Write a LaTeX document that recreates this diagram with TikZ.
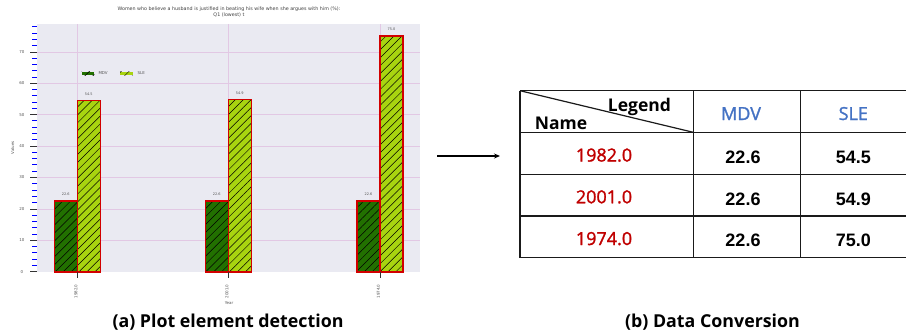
\documentclass[tikz,border=0pt]{standalone}
\usepackage{fontspec}
\setmainfont{Liberation Sans}
\newfontfamily\capfont{Open Sans}
\newfontfamily\medfont[RawFeature={embolden=1.4}]{Open Sans}
\newfontfamily\dvfont{DejaVu Sans}
\usetikzlibrary{patterns.meta,arrows.meta}
\definecolor{plotbg}{HTML}{EAEAF2}
\definecolor{gridc}{HTML}{E2C8E4}
\definecolor{mdvc}{HTML}{227000}
\definecolor{slec}{HTML}{A8D410}
\definecolor{edgec}{HTML}{D20000}
\definecolor{yearc}{HTML}{C00000}
\definecolor{headc}{HTML}{4472C4}
\definecolor{tinyc}{HTML}{555555}
\definecolor{tablec}{HTML}{1A1A1A}
\tikzset{
  tiny/.style={font=\dvfont\fontsize{4}{4.5}\selectfont, text=tinyc, inner sep=0pt},
  hatchbar/.style={fill=#1, postaction={pattern={Lines[angle=45,distance=5.6pt,line width=0.5pt]}, pattern color=black}},
  baredge/.style={draw=edgec, line width=1.6pt},
  majtick/.style={draw=black!80, line width=0.8pt},
  mintick/.style={draw=blue, line width=1pt},
  gridl/.style={draw=gridc, line width=0.5pt},
  tline/.style={draw=tablec, line width=1.3pt},
  headtxt/.style={font=\capfont\bfseries\fontsize{17.5}{19}\selectfont, inner sep=0pt, anchor=base},
  yeartxt/.style={font=\medfont\fontsize{18}{20}\selectfont, text=yearc, inner sep=0pt, anchor=base},
  coltxt/.style={font=\medfont\fontsize{18}{20}\selectfont, text=headc, inner sep=0pt, anchor=base},
  valtxt/.style={font=\bfseries\fontsize{18}{20}\selectfont, inner sep=0pt, anchor=base},
  captxt/.style={font=\capfont\bfseries\fontsize{17.8}{20}\selectfont, inner sep=0pt, anchor=base},
}
\begin{document}
\begin{tikzpicture}[x=1pt,y=-1pt]
\useasboundingbox (0,0) rectangle (906,335);
\fill[white] (0,0) rectangle (906,335);
% ---------- plot ----------
\fill[plotbg] (37.3,24) rectangle (420,271.7);
\foreach \v in {10,20,...,70}{
  \draw[gridl] (37.3,{271.7-3.14*\v}) -- (420,{271.7-3.14*\v});
}
\foreach \x in {77.3,228.3,380}{
  \draw[gridl] (\x,24) -- (\x,271.7);
}
\foreach \v in {0,2,...,78}{
  \pgfmathtruncatemacro\mm{mod(\v,10)}
  \ifnum\mm=0
    \draw[majtick] (30,{271.7-3.14*\v}) -- (37.3,{271.7-3.14*\v});
    \node[tiny] (tl\v) at (22,{271.7-3.14*\v}) {\v};
  \else
    \draw[mintick] (32,{271.7-3.14*\v}) -- (37.3,{271.7-3.14*\v});
  \fi
}
% bars
\foreach \x/\s/\slab [count=\i] in {77.3/54.5/54.5, 228.3/54.9/54.9, 380/75/75.0}{
  \path[hatchbar=mdvc] (\x-23,271.7) rectangle (\x,{271.7-3.14*22.6});
  \draw[baredge] (\x-23,271.7) rectangle (\x,{271.7-3.14*22.6});
  \path[hatchbar=slec] (\x,271.7) rectangle (\x+23,{271.7-3.14*\s});
  \draw[baredge] (\x,271.7) rectangle (\x+23,{271.7-3.14*\s});
  \node[tiny, font=\dvfont\fontsize{3.5}{4}\selectfont] (vm\i) at (\x-11.5,{271.7-3.14*22.6-6.5}) {22.6};
  \node[tiny, font=\dvfont\fontsize{3.5}{4}\selectfont] (vs\i) at (\x+11.5,{271.7-3.14*\s-6.5}) {\slab};
  \draw[majtick] (\x,271.7) -- (\x,278.3);
}
\node[tiny, rotate=90] (xl1) at (75.8,291.5) {1982.0};
\node[tiny, rotate=90] (xl2) at (226.8,291.5) {2001.0};
\node[tiny, rotate=90] (xl3) at (378.5,291.5) {1974.0};
\node[tiny] (xlab) at (229,303) {Year};
\node[tiny, rotate=90] (ylab) at (12.7,147.5) {Values};
\node[tiny, font=\dvfont\fontsize{4.8}{6}\selectfont, text=black!75, align=center] (title) at (229,12.3)
  {Women who believe a husband is justified in beating his wife when she argues with him (\%):\\Q1 (lowest) t};
% legend
\path[hatchbar=mdvc] (81.7,71.7) rectangle (94.3,75);
\node[tiny, anchor=west] (lgm) at (98.3,73.3) {MDV};
\path[hatchbar=slec] (120,71.7) rectangle (132.7,75);
\node[tiny, anchor=west] (lgs) at (137.3,73.3) {SLE};
\node[captxt] (capa) at (228,327.5) {(a) Plot element detection};
% ---------- arrow ----------
\coordinate (arrA) at (437,156);
\coordinate (arrB) at (500,156);
\draw[line width=1.3pt, -{Stealth[length=6pt,width=5pt]}] (arrA) -- (arrB);
% ---------- table ----------
\foreach \y in {90.7,132.3,174.3,216,257.7}{
  \draw[tline] (520,\y) -- (910,\y);
}
\foreach \x in {520,693.3,800.7}{
  \draw[tline] (\x,90.7) -- (\x,257.7);
}
\draw[tablec, line width=1.2pt] (520,90.7) -- (693.3,132.3);
\node[headtxt] (hleg) at (639.5,111.7) {Legend};
\node[headtxt] (hname) at (561,129.3) {Name};
\node[coltxt] (hmdv) at (741,120) {MDV};
\node[coltxt] (hsle) at (853.3,120) {SLE};
\node[yeartxt] (r1) at (604,161.5) {1982.0};
\node[yeartxt] (r2) at (604,203.3) {2001.0};
\node[yeartxt] (r3) at (604,245) {1974.0};
\node[valtxt] (m1) at (743,163.3) {22.6};
\node[valtxt] (m2) at (743,205) {22.6};
\node[valtxt] (m3) at (743,246.5) {22.6};
\node[valtxt] (s1) at (853.3,163.3) {54.5};
\node[valtxt] (s2) at (853.3,205) {54.9};
\node[valtxt] (s3) at (853.3,246.5) {75.0};
\node[captxt] (capb) at (712.5,327) {(b) Data Conversion};
\end{tikzpicture}
\end{document}
